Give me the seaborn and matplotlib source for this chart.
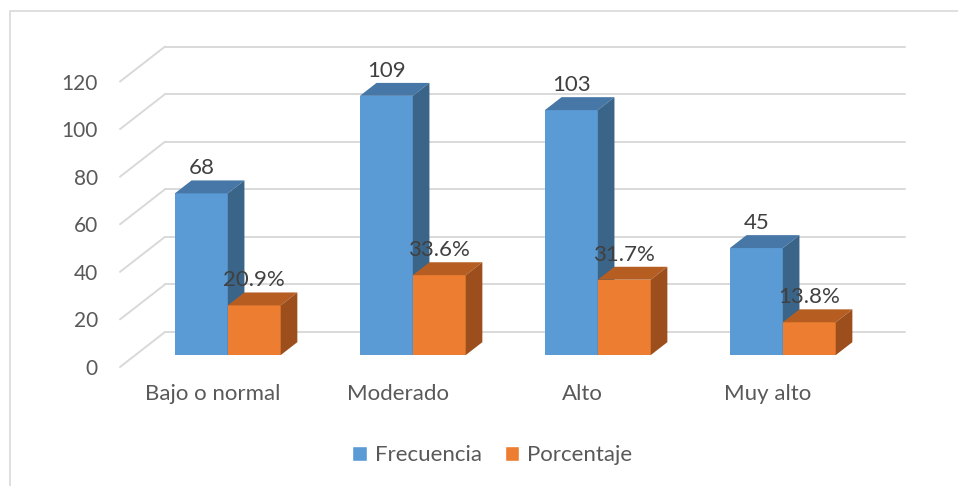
import matplotlib
matplotlib.use('Agg')
import pandas as pd
import matplotlib.pyplot as plt
import seaborn as sns
from matplotlib.patches import Polygon, Patch, Rectangle

categories = ['Bajo o normal', 'Moderado', 'Alto', 'Muy alto']
frecuencia = [68, 109, 103, 45]
porcentaje = [20.9, 33.6, 31.7, 13.8]
series_names = ['Frecuencia', 'Porcentaje']
y_ticks = [0, 20, 40, 60, 80, 100, 120]

face_colors = {'Frecuencia': '#5B9BD5', 'Porcentaje': '#ED7D31'}
top_colors = {'Frecuencia': '#4677A6', 'Porcentaje': '#B65E22'}
side_colors = {'Frecuencia': '#3A6488', 'Porcentaje': '#9C4F1C'}

# fake 3D: full floor depth in data units, and where the bar slab sits in it
DX, DY = 0.243, 14.7
FRONT, BACK = 0.34, 0.71

df = pd.DataFrame({
    'Nivel': categories * 2,
    'Serie': ['Frecuencia'] * 4 + ['Porcentaje'] * 4,
    'Valor': frecuencia + porcentaje,
})

sns.set_theme(style='white')
plt.rcParams['font.family'] = ['Lato', 'DejaVu Sans']

fig = plt.figure(figsize=(9.58, 4.86), dpi=100)
ax = fig.add_axes([120 / 958, 119 / 486, 785 / 958, 320.4 / 486])

sns.barplot(data=df, x='Nivel', y='Valor', hue='Serie', hue_order=series_names,
            palette=face_colors, width=0.572, gap=0, saturation=1,
            legend=False, linewidth=0, ax=ax)

fx, fy = FRONT * DX, FRONT * DY
bx, by = BACK * DX, BACK * DY
bars = sorted(ax.patches, key=lambda p: p.get_x())
for i, bar in enumerate(bars):
    serie = series_names[i % 2]
    x0, w, h = bar.get_x(), bar.get_width(), bar.get_height()
    z = 2 + i % 2
    bar.set_x(x0 + fx)
    bar.set_y(fy)
    bar.set_zorder(z)
    top = Polygon([(x0 + fx, fy + h), (x0 + w + fx, fy + h),
                   (x0 + w + bx, by + h), (x0 + bx, by + h)],
                  closed=True, fc=top_colors[serie], lw=0, zorder=z)
    side = Polygon([(x0 + w + fx, fy), (x0 + w + bx, by),
                    (x0 + w + bx, by + h), (x0 + w + fx, fy + h)],
                   closed=True, fc=side_colors[serie], lw=0, zorder=z)
    ax.add_patch(top)
    ax.add_patch(side)
    label = f'{h:g}' if serie == 'Frecuencia' else f'{h:.1f}%'
    ax.annotate(label, (x0 + fx + w / 2, by + h), xytext=(0, 1.5),
                textcoords='offset points', ha='center', va='bottom',
                fontsize=16, color='#404040', zorder=5)

# back wall gridlines + the slanted left edge of the floor
for v in y_ticks:
    ax.plot([-0.5 + DX, 3.5 + DX], [v + DY, v + DY], color='#D9D9D9',
            lw=1.4, zorder=1, clip_on=False)
    ax.plot([-0.5, -0.5 + DX], [v, v + DY], color='#D9D9D9',
            lw=1.4, zorder=1, clip_on=False)

ax.set_xlim(-0.5, 3.5 + DX)
ax.set_ylim(0, 120 + DY)
ax.set_yticks(y_ticks)
ax.set_xticks(range(len(categories)))
ax.set_xticklabels(categories)
ax.set_xlabel('')
ax.set_ylabel('')
ax.tick_params(axis='y', length=0, pad=16, labelsize=15, labelcolor='#595959')
ax.tick_params(axis='x', length=0, pad=12, labelsize=16, labelcolor='#595959')
for s in ax.spines.values():
    s.set_visible(False)

handles = [Patch(fc=face_colors[s], label=s) for s in series_names]
fig.legend(handles=handles, loc='center', bbox_to_anchor=(0.514, 0.064), ncol=2,
           frameon=False, fontsize=16, labelcolor='#595959', handlelength=0.65,
           handleheight=0.65, columnspacing=1.05, handletextpad=0.35)

fig.add_artist(Rectangle((9.5 / 958, -0.01), 1.0, 0.987, transform=fig.transFigure,
                         fill=False, ec='#D9D9D9', lw=1.2))

fig.savefig('out.png', dpi=100)
